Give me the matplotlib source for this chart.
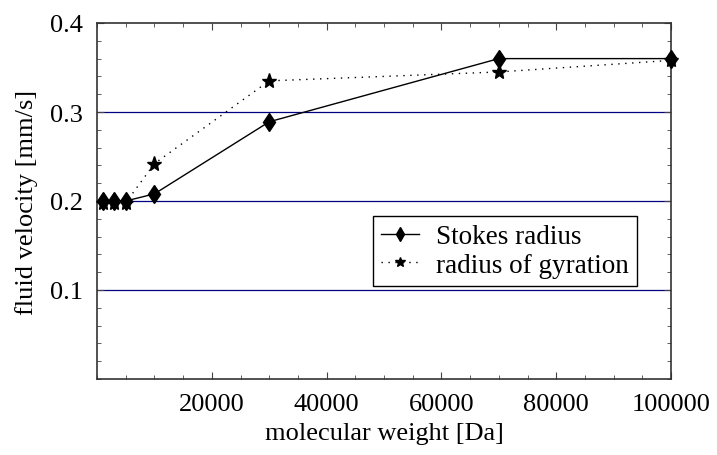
import matplotlib
matplotlib.use("Agg")
import matplotlib.pyplot as plt
from matplotlib.ticker import MultipleLocator

# molecular weight [Da]
weights = [1000, 3000, 5000, 10000, 30000, 70000, 100000]
stokes = [0.2, 0.2, 0.2, 0.208, 0.289, 0.36, 0.36]
gyration = [0.198, 0.198, 0.198, 0.242, 0.335, 0.345, 0.358]
grid_levels = [0.1, 0.2, 0.3]
xticks = [20000, 40000, 60000, 80000, 100000]
yticks = [0.1, 0.2, 0.3, 0.4]

plt.rcParams['font.family'] = ['Liberation Serif', 'DejaVu Serif']
plt.rcParams['font.size'] = 19

fig = plt.figure(figsize=(7.17, 4.56), dpi=100)
ax = fig.add_axes([97 / 717, 76 / 456, 574 / 717, 356 / 456])

for lvl in grid_levels:
    ax.axhline(lvl, color='#000080', lw=0.9, zorder=1)

ax.plot(weights, stokes, color='black', lw=1.0, marker='d', ms=9.5,
        label='Stokes radius', zorder=3, clip_on=False)
ax.plot(weights, gyration, color='black', lw=1.0, ls=(0, (1, 4)), marker='*', ms=11,
        label='radius of gyration', zorder=3, clip_on=False)

ax.set_xlim(0, 100000)
ax.set_ylim(0, 0.4)
ax.xaxis.set_minor_locator(MultipleLocator(5000))
ax.yaxis.set_minor_locator(MultipleLocator(0.02))
ax.set_xticks(xticks)
ax.set_xticklabels([str(t) for t in xticks])
ax.set_yticks(yticks)
ax.set_yticklabels([f'{t:.1f}' for t in yticks])
ax.tick_params(which='both', direction='in', top=True, right=True, color='#444444')
ax.tick_params(axis='x', which='major', length=5, pad=10)
ax.tick_params(axis='y', which='major', length=5, pad=10)
ax.tick_params(which='minor', length=3)
for sp in ax.spines.values():
    sp.set_color('#333333')
    sp.set_linewidth(1.2)

ax.set_xlabel('molecular weight [Da]', labelpad=5)
ax.set_ylabel('fluid velocity [mm/s]', labelpad=9)

leg = ax.legend(loc='lower right', bbox_to_anchor=(0.941, 0.262), borderaxespad=0,
                fancybox=False, edgecolor='black', framealpha=1, fontsize=19.5,
                handlelength=1.4, handletextpad=0.65, borderpad=0.3, labelspacing=0.12,
                markerscale=0.7)
leg.get_frame().set_linewidth(1.0)

fig.savefig('out.png', dpi=100)
